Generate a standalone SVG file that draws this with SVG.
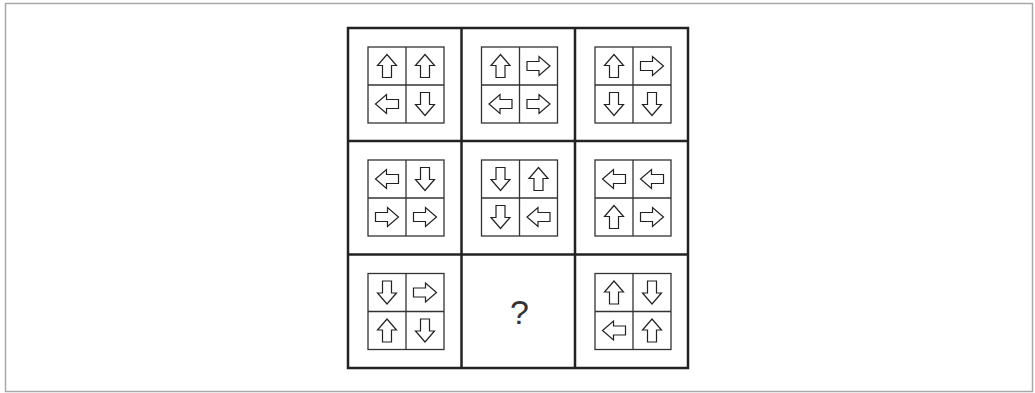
<svg xmlns="http://www.w3.org/2000/svg" xmlns:xlink="http://www.w3.org/1999/xlink" width="1035" height="393" viewBox="0 0 1035 393">
<style>
.frame{fill:#fff;stroke:#a8a8a8;stroke-width:1.5}
.grid{fill:none;stroke:#222;stroke-width:2.5}
.box{fill:#fff;stroke:#333;stroke-width:1.3}
.arr{fill:#fff;stroke:#222;stroke-width:1.2;stroke-linejoin:miter}
.q{font-family:"Liberation Sans",Arial,sans-serif;font-size:34px;fill:#333;text-anchor:middle}
</style>
<defs>
<path id="R" class="arr" d="M-11.5,-4.5 L0.5,-4.5 L0.5,-9.5 L11.5,0 L0.5,9.5 L0.5,4.5 L-11.5,4.5 Z"/>
<use id="L" xlink:href="#R" href="#R" transform="rotate(180)"/>
<use id="U" xlink:href="#R" href="#R" transform="rotate(-90)"/>
<use id="D" xlink:href="#R" href="#R" transform="rotate(90)"/>
<g id="B"><rect class="box" x="-38" y="-38" width="76" height="76"/><line class="box" x1="0" y1="-38" x2="0" y2="38"/><line class="box" x1="-38" y1="0" x2="38" y2="0"/></g>
</defs>
<rect class="frame" x="5.5" y="3.5" width="1027" height="388"/>
<g id="grid">
<rect class="grid" x="348" y="28" width="340" height="340"/>
<line class="grid" x1="461.5" y1="28" x2="461.5" y2="368"/>
<line class="grid" x1="575" y1="28" x2="575" y2="368"/>
<line class="grid" x1="348" y1="141" x2="688" y2="141"/>
<line class="grid" x1="348" y1="254.5" x2="688" y2="254.5"/>
</g>
<g id="c11" transform="translate(406,85)"><use href="#B"/><use href="#U" x="-19" y="-19"/><use href="#U" x="19" y="-19"/><use href="#L" x="-19" y="19"/><use href="#D" x="19" y="19"/></g>
<g id="c12" transform="translate(519.5,85)"><use href="#B"/><use href="#U" x="-19" y="-19"/><use href="#R" x="19" y="-19"/><use href="#L" x="-19" y="19"/><use href="#R" x="19" y="19"/></g>
<g id="c13" transform="translate(633,85)"><use href="#B"/><use href="#U" x="-19" y="-19"/><use href="#R" x="19" y="-19"/><use href="#D" x="-19" y="19"/><use href="#D" x="19" y="19"/></g>
<g id="c21" transform="translate(406,198)"><use href="#B"/><use href="#L" x="-19" y="-19"/><use href="#D" x="19" y="-19"/><use href="#R" x="-19" y="19"/><use href="#R" x="19" y="19"/></g>
<g id="c22" transform="translate(519.5,198)"><use href="#B"/><use href="#D" x="-19" y="-19"/><use href="#U" x="19" y="-19"/><use href="#D" x="-19" y="19"/><use href="#L" x="19" y="19"/></g>
<g id="c23" transform="translate(633,198)"><use href="#B"/><use href="#L" x="-19" y="-19"/><use href="#L" x="19" y="-19"/><use href="#U" x="-19" y="19"/><use href="#R" x="19" y="19"/></g>
<g id="c31" transform="translate(406,311.5)"><use href="#B"/><use href="#D" x="-19" y="-19"/><use href="#R" x="19" y="-19"/><use href="#U" x="-19" y="19"/><use href="#D" x="19" y="19"/></g>
<g id="c32"><text class="q" x="519.5" y="323.5">?</text></g>
<g id="c33" transform="translate(633,311.5)"><use href="#B"/><use href="#U" x="-19" y="-19"/><use href="#D" x="19" y="-19"/><use href="#L" x="-19" y="19"/><use href="#U" x="19" y="19"/></g>
</svg>
